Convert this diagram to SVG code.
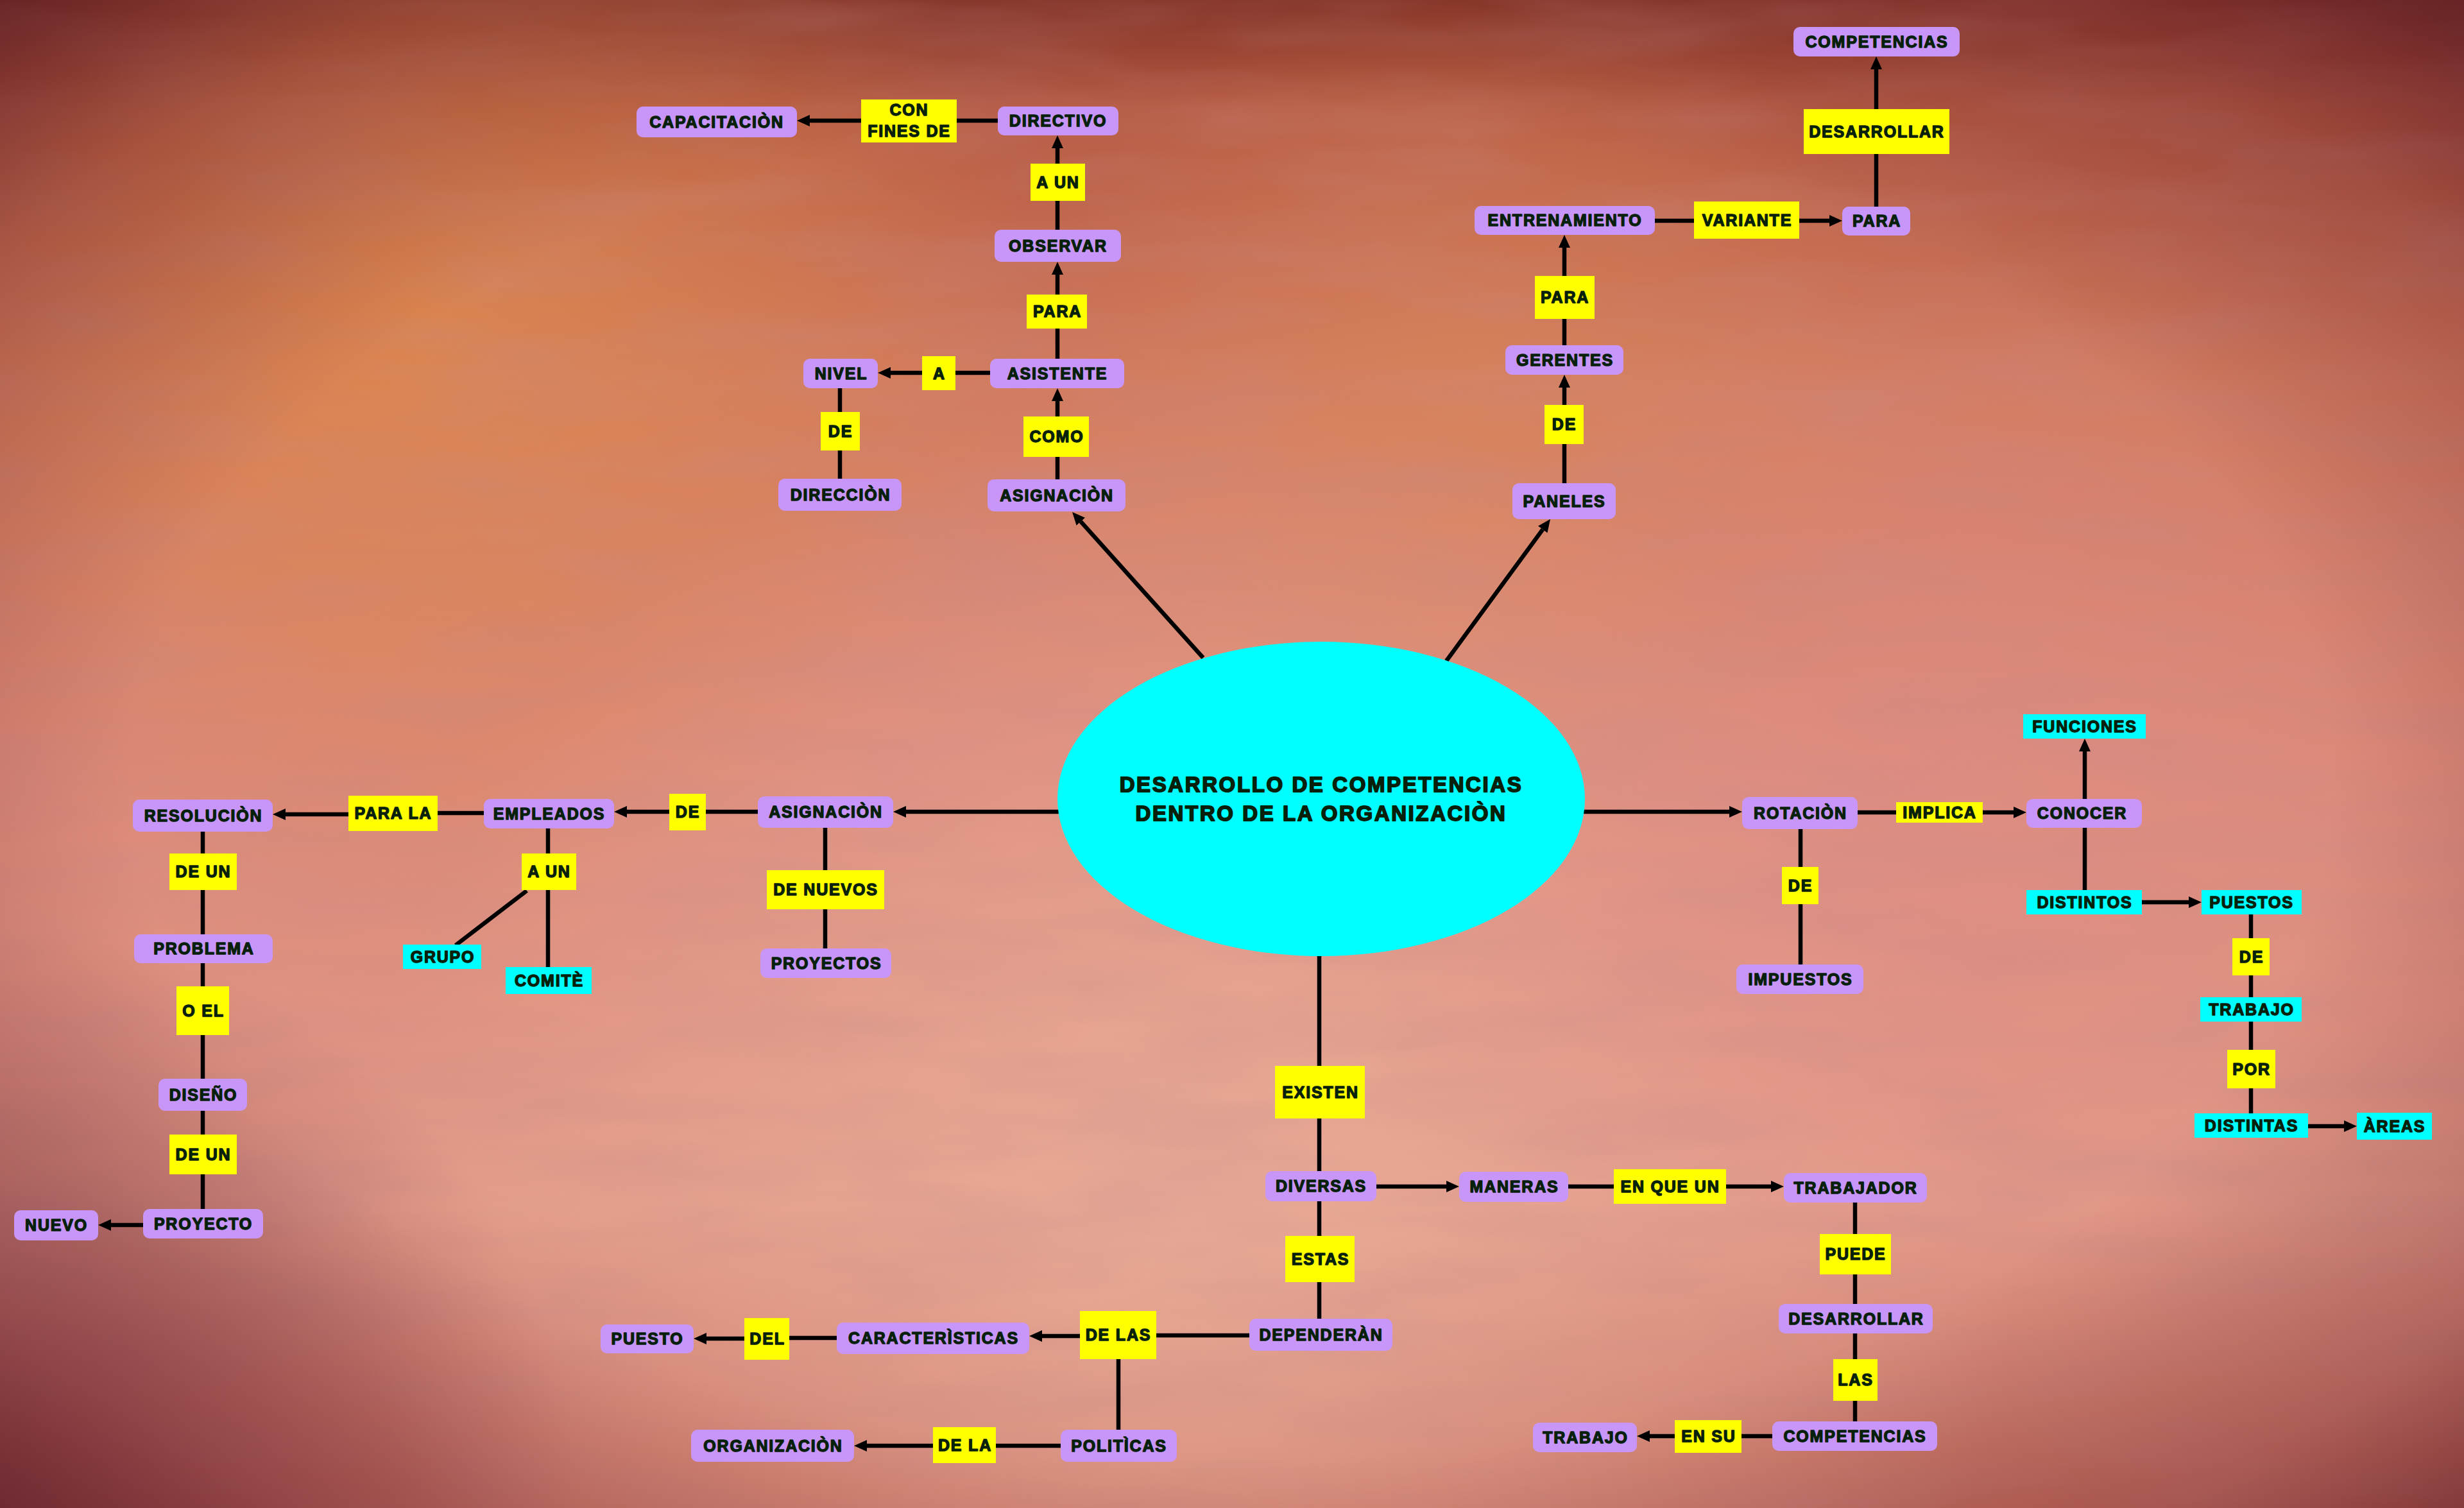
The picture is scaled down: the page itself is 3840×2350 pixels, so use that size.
<svg xmlns="http://www.w3.org/2000/svg" width="3840" height="2350" viewBox="0 0 3840 2350">
<defs>
<style>
.p{fill:#c896f8;}
.y{fill:#ffff00;}
.c{fill:#00ffff;}
.t{font-family:"Liberation Sans",Arial,sans-serif;font-weight:bold;font-size:25px;letter-spacing:1.8px;fill:#06200a;stroke:#06200a;stroke-width:1.4;stroke-linejoin:round;text-anchor:middle;}
.tt{font-family:"Liberation Sans",Arial,sans-serif;font-weight:bold;font-size:33px;letter-spacing:2.6px;fill:#06200a;stroke:#06200a;stroke-width:1.8;stroke-linejoin:round;text-anchor:middle;}
.ln{stroke:#000;stroke-width:6.5;fill:none;}
.ar{stroke:#000;stroke-width:6.5;fill:none;marker-end:url(#ah);}
</style>
<marker id="ah" viewBox="0 0 20 18" refX="0" refY="9" markerWidth="20" markerHeight="18" markerUnits="userSpaceOnUse" orient="auto">
<path d="M0,0 L20,9 L0,18 z" fill="#000"/>
</marker>
<linearGradient id="bgv" x1="0" y1="0" x2="0" y2="1">
<stop offset="0" stop-color="#8a3828"/>
<stop offset="0.07" stop-color="#b65a42"/>
<stop offset="0.25" stop-color="#d27a5e"/>
<stop offset="0.5" stop-color="#dc8878"/>
<stop offset="0.8" stop-color="#e29a88"/>
<stop offset="1" stop-color="#c87262"/>
</linearGradient>
<radialGradient id="org" cx="650" cy="480" r="950" gradientUnits="userSpaceOnUse">
<stop offset="0" stop-color="#e08a4c" stop-opacity="0.75"/>
<stop offset="1" stop-color="#e08a4c" stop-opacity="0"/>
</radialGradient>
<radialGradient id="org2" cx="2300" cy="650" r="700" gradientUnits="userSpaceOnUse">
<stop offset="0" stop-color="#dc8a5a" stop-opacity="0.5"/>
<stop offset="1" stop-color="#dc8a5a" stop-opacity="0"/>
</radialGradient>
<radialGradient id="pch" cx="1850" cy="1900" r="1300" gradientUnits="userSpaceOnUse">
<stop offset="0" stop-color="#ecb09c" stop-opacity="0.75"/>
<stop offset="1" stop-color="#ecb09c" stop-opacity="0"/>
</radialGradient>
<radialGradient id="pink" cx="3000" cy="1300" r="900" gradientUnits="userSpaceOnUse">
<stop offset="0" stop-color="#e0908a" stop-opacity="0.5"/>
<stop offset="1" stop-color="#e0908a" stop-opacity="0"/>
</radialGradient>
<radialGradient id="dark" cx="0" cy="2350" r="900" gradientUnits="userSpaceOnUse">
<stop offset="0" stop-color="#6a2438" stop-opacity="0.6"/>
<stop offset="1" stop-color="#6a2438" stop-opacity="0"/>
</radialGradient>
<radialGradient id="vig" cx="0.5" cy="0.52" r="0.72">
<stop offset="0.62" stop-color="#6a2028" stop-opacity="0"/>
<stop offset="0.85" stop-color="#6a2028" stop-opacity="0.35"/>
<stop offset="1" stop-color="#5a1a22" stop-opacity="0.75"/>
</radialGradient>
<filter id="tex" x="0" y="0" width="100%" height="100%">
<feTurbulence type="fractalNoise" baseFrequency="0.003 0.014" numOctaves="3" seed="7"/>
<feColorMatrix type="matrix" values="0 0 0 0 0.55  0 0 0 0 0.25  0 0 0 0 0.25  0 0 0 -1.6 1.1"/>
</filter>
</defs>

<g id="background">
<rect width="3840" height="2350" fill="url(#bgv)"/>
<rect width="3840" height="2350" fill="url(#org)"/>
<rect width="3840" height="2350" fill="url(#org2)"/>
<rect width="3840" height="2350" fill="url(#pch)"/>
<rect width="3840" height="2350" fill="url(#pink)"/>
<rect width="3840" height="2350" filter="url(#tex)" opacity="0.3"/>
<rect width="3840" height="2350" fill="url(#dark)"/>
<rect width="3840" height="2350" fill="url(#vig)"/>
</g>

<g id="connectors">
<line class="ar" x1="1875" y1="1025" x2="1684.4" y2="812.9"/>
<line class="ln" x1="1648" y1="772" x2="1648" y2="680"/>
<line class="ar" x1="1648" y1="649" x2="1648" y2="625"/>
<line class="ln" x1="1648" y1="582" x2="1648" y2="485"/>
<line class="ar" x1="1648" y1="459" x2="1648" y2="428"/>
<line class="ln" x1="1648" y1="383" x2="1648" y2="284"/>
<line class="ar" x1="1648" y1="255" x2="1648" y2="231"/>
<line class="ln" x1="1650" y1="188" x2="1416" y2="188"/>
<line class="ar" x1="1342" y1="188" x2="1262" y2="188"/>
<line class="ln" x1="1647" y1="581" x2="1463" y2="581"/>
<line class="ar" x1="1437" y1="581" x2="1388" y2="581"/>
<line class="ln" x1="1309" y1="582" x2="1309" y2="771"/>
<line class="ar" x1="2254" y1="1030" x2="2404.2" y2="825.1"/>
<line class="ln" x1="2438" y1="780" x2="2438" y2="661"/>
<line class="ar" x1="2438" y1="631" x2="2438" y2="604"/>
<line class="ln" x1="2438" y1="561" x2="2438" y2="463"/>
<line class="ar" x1="2438" y1="430" x2="2438" y2="386"/>
<line class="ln" x1="2438" y1="344" x2="2722" y2="344"/>
<line class="ar" x1="2804" y1="344" x2="2851" y2="344"/>
<line class="ln" x1="2924" y1="344" x2="2924" y2="205"/>
<line class="ar" x1="2924" y1="170" x2="2924" y2="108"/>
<line class="ar" x1="1660" y1="1265" x2="1412" y2="1265"/>
<line class="ln" x1="1286" y1="1265" x2="1071" y2="1265"/>
<line class="ar" x1="1043" y1="1265" x2="977" y2="1265"/>
<line class="ln" x1="855" y1="1267" x2="612" y2="1267"/>
<line class="ar" x1="543" y1="1269" x2="445" y2="1269"/>
<line class="ln" x1="316" y1="1271" x2="316" y2="1907"/>
<line class="ar" x1="223" y1="1909" x2="173" y2="1909"/>
<line class="ln" x1="854" y1="1268" x2="854" y2="1528"/>
<line class="ln" x1="821" y1="1388" x2="710" y2="1473"/>
<line class="ln" x1="1286" y1="1266" x2="1286" y2="1501"/>
<line class="ar" x1="2460" y1="1265" x2="2695" y2="1265"/>
<line class="ln" x1="2805" y1="1266" x2="3022" y2="1266"/>
<line class="ar" x1="3090" y1="1266" x2="3138" y2="1266"/>
<line class="ar" x1="3249" y1="1245" x2="3249" y2="1171"/>
<line class="ln" x1="3249" y1="1267" x2="3249" y2="1406"/>
<line class="ar" x1="3338" y1="1406" x2="3411" y2="1406"/>
<line class="ln" x1="3508" y1="1406" x2="3508" y2="1754"/>
<line class="ar" x1="3597" y1="1755" x2="3653" y2="1755"/>
<line class="ln" x1="2806" y1="1266" x2="2806" y2="1526"/>
<line class="ln" x1="2056" y1="1480" x2="2056" y2="2080"/>
<line class="ar" x1="2144" y1="1849" x2="2254" y2="1849"/>
<line class="ln" x1="2359" y1="1849" x2="2602" y2="1849"/>
<line class="ar" x1="2690" y1="1849" x2="2760" y2="1849"/>
<line class="ln" x1="2891" y1="1851" x2="2891" y2="2238"/>
<line class="ln" x1="2890" y1="2238" x2="2662" y2="2238"/>
<line class="ar" x1="2610" y1="2238" x2="2571" y2="2238"/>
<line class="ln" x1="2058" y1="2081" x2="1742" y2="2081"/>
<line class="ar" x1="1683" y1="2082" x2="1624" y2="2082"/>
<line class="ln" x1="1454" y1="2085" x2="1195" y2="2085"/>
<line class="ar" x1="1160" y1="2086" x2="1101" y2="2086"/>
<line class="ln" x1="1743" y1="2080" x2="1743" y2="2253"/>
<line class="ln" x1="1743" y1="2253" x2="1503" y2="2253"/>
<line class="ar" x1="1454" y1="2253" x2="1351" y2="2253"/>
</g>

<g id="center">
<ellipse cx="2059" cy="1245" rx="411" ry="245" fill="#00ffff"/>
<text class="tt" x="2059" y="1234">DESARROLLO DE COMPETENCIAS</text>
<text class="tt" x="2059" y="1279">DENTRO DE LA ORGANIZACIÒN</text>
</g>

<g id="n-capacitacion"><rect class="p" x="992" y="166" width="250" height="48" rx="10"/><text class="t" x="1117" y="199">CAPACITACIÒN</text></g>
<g id="n-con-fines-de"><rect class="y" x="1342" y="155" width="149" height="67"/><text class="t" x="1417" y="180">CON</text><text class="t" x="1417" y="213">FINES DE</text></g>
<g id="n-directivo"><rect class="p" x="1555" y="166" width="188" height="45" rx="10"/><text class="t" x="1649" y="197">DIRECTIVO</text></g>
<g id="n-a-un-1"><rect class="y" x="1606" y="255" width="85" height="58"/><text class="t" x="1649" y="293">A UN</text></g>
<g id="n-observar"><rect class="p" x="1550" y="358" width="197" height="50" rx="10"/><text class="t" x="1649" y="392">OBSERVAR</text></g>
<g id="n-para-1"><rect class="y" x="1600" y="459" width="94" height="53"/><text class="t" x="1648" y="494">PARA</text></g>
<g id="n-asistente"><rect class="p" x="1543" y="559" width="209" height="46" rx="10"/><text class="t" x="1648" y="591">ASISTENTE</text></g>
<g id="n-a"><rect class="y" x="1437" y="555" width="52" height="53"/><text class="t" x="1464" y="591">A</text></g>
<g id="n-nivel"><rect class="p" x="1252" y="559" width="116" height="46" rx="10"/><text class="t" x="1311" y="591">NIVEL</text></g>
<g id="n-de-1"><rect class="y" x="1279" y="642" width="61" height="60"/><text class="t" x="1310" y="681">DE</text></g>
<g id="n-direccion"><rect class="p" x="1213" y="746" width="192" height="50" rx="10"/><text class="t" x="1310" y="780">DIRECCIÒN</text></g>
<g id="n-como"><rect class="y" x="1595" y="649" width="102" height="63"/><text class="t" x="1647" y="689">COMO</text></g>
<g id="n-asignacion-1"><rect class="p" x="1539" y="747" width="215" height="50" rx="10"/><text class="t" x="1647" y="781">ASIGNACIÒN</text></g>

<g id="n-competencias-1"><rect class="p" x="2795" y="42" width="259" height="46" rx="10"/><text class="t" x="2925" y="74">COMPETENCIAS</text></g>
<g id="n-desarrollar-1"><rect class="y" x="2811" y="170" width="227" height="70"/><text class="t" x="2925" y="214">DESARROLLAR</text></g>
<g id="n-entrenamiento"><rect class="p" x="2298" y="321" width="281" height="45" rx="10"/><text class="t" x="2439" y="352">ENTRENAMIENTO</text></g>
<g id="n-variante"><rect class="y" x="2640" y="314" width="164" height="58"/><text class="t" x="2723" y="352">VARIANTE</text></g>
<g id="n-para-2"><rect class="p" x="2871" y="322" width="106" height="45" rx="10"/><text class="t" x="2925" y="353">PARA</text></g>
<g id="n-para-3"><rect class="y" x="2392" y="430" width="93" height="67"/><text class="t" x="2439" y="472">PARA</text></g>
<g id="n-gerentes"><rect class="p" x="2346" y="538" width="184" height="46" rx="10"/><text class="t" x="2439" y="570">GERENTES</text></g>
<g id="n-de-2"><rect class="y" x="2407" y="631" width="61" height="61"/><text class="t" x="2438" y="670">DE</text></g>
<g id="n-paneles"><rect class="p" x="2357" y="753" width="161" height="56" rx="10"/><text class="t" x="2438" y="790">PANELES</text></g>

<g id="n-resolucion"><rect class="p" x="207" y="1246" width="218" height="50" rx="10"/><text class="t" x="317" y="1280">RESOLUCIÒN</text></g>
<g id="n-para-la"><rect class="y" x="543" y="1240" width="139" height="55"/><text class="t" x="613" y="1276">PARA LA</text></g>
<g id="n-empleados"><rect class="p" x="754" y="1245" width="203" height="46" rx="10"/><text class="t" x="856" y="1277">EMPLEADOS</text></g>
<g id="n-de-3"><rect class="y" x="1043" y="1237" width="57" height="57"/><text class="t" x="1072" y="1274">DE</text></g>
<g id="n-asignacion-2"><rect class="p" x="1181" y="1241" width="211" height="49" rx="10"/><text class="t" x="1287" y="1274">ASIGNACIÒN</text></g>
<g id="n-de-nuevos"><rect class="y" x="1195" y="1356" width="183" height="61"/><text class="t" x="1287" y="1395">DE NUEVOS</text></g>
<g id="n-proyectos"><rect class="p" x="1185" y="1478" width="204" height="46" rx="10"/><text class="t" x="1288" y="1510">PROYECTOS</text></g>
<g id="n-a-un-2"><rect class="y" x="813" y="1330" width="85" height="57"/><text class="t" x="856" y="1367">A UN</text></g>
<g id="n-grupo"><rect class="c" x="628" y="1472" width="122" height="38"/><text class="t" x="690" y="1500">GRUPO</text></g>
<g id="n-comite"><rect class="c" x="788" y="1507" width="134" height="42"/><text class="t" x="856" y="1537">COMITÈ</text></g>
<g id="n-de-un-1"><rect class="y" x="264" y="1330" width="105" height="57"/><text class="t" x="317" y="1367">DE UN</text></g>
<g id="n-problema"><rect class="p" x="209" y="1456" width="216" height="45" rx="10"/><text class="t" x="318" y="1487">PROBLEMA</text></g>
<g id="n-o-el"><rect class="y" x="275" y="1537" width="82" height="76"/><text class="t" x="317" y="1584">O EL</text></g>
<g id="n-diseno"><rect class="p" x="247" y="1681" width="138" height="50" rx="10"/><text class="t" x="317" y="1715">DISEÑO</text></g>
<g id="n-de-un-2"><rect class="y" x="264" y="1768" width="105" height="62"/><text class="t" x="317" y="1808">DE UN</text></g>
<g id="n-proyecto"><rect class="p" x="223" y="1884" width="187" height="46" rx="10"/><text class="t" x="317" y="1916">PROYECTO</text></g>
<g id="n-nuevo"><rect class="p" x="22" y="1886" width="131" height="47" rx="10"/><text class="t" x="88" y="1918">NUEVO</text></g>

<g id="n-rotacion"><rect class="p" x="2715" y="1242" width="180" height="50" rx="10"/><text class="t" x="2806" y="1276">ROTACIÒN</text></g>
<g id="n-implica"><rect class="y" x="2955" y="1250" width="135" height="32"/><text class="t" x="3023" y="1275">IMPLICA</text></g>
<g id="n-conocer"><rect class="p" x="3158" y="1245" width="180" height="45" rx="10"/><text class="t" x="3245" y="1276">CONOCER</text></g>
<g id="n-funciones"><rect class="c" x="3153" y="1113" width="191" height="38"/><text class="t" x="3249" y="1141">FUNCIONES</text></g>
<g id="n-distintos"><rect class="c" x="3158" y="1387" width="180" height="38"/><text class="t" x="3249" y="1415">DISTINTOS</text></g>
<g id="n-puestos"><rect class="c" x="3431" y="1387" width="156" height="38"/><text class="t" x="3509" y="1415">PUESTOS</text></g>
<g id="n-de-4"><rect class="y" x="3479" y="1462" width="58" height="58"/><text class="t" x="3509" y="1500">DE</text></g>
<g id="n-trabajo-1"><rect class="c" x="3429" y="1554" width="158" height="38"/><text class="t" x="3509" y="1582">TRABAJO</text></g>
<g id="n-por"><rect class="y" x="3471" y="1636" width="75" height="60"/><text class="t" x="3509" y="1675">POR</text></g>
<g id="n-distintas"><rect class="c" x="3420" y="1735" width="177" height="38"/><text class="t" x="3509" y="1763">DISTINTAS</text></g>
<g id="n-areas"><rect class="c" x="3673" y="1734" width="117" height="42"/><text class="t" x="3732" y="1764">ÀREAS</text></g>
<g id="n-de-5"><rect class="y" x="2777" y="1351" width="57" height="58"/><text class="t" x="2806" y="1389">DE</text></g>
<g id="n-impuestos"><rect class="p" x="2706" y="1503" width="198" height="46" rx="10"/><text class="t" x="2806" y="1535">IMPUESTOS</text></g>

<g id="n-existen"><rect class="y" x="1987" y="1661" width="140" height="82"/><text class="t" x="2058" y="1711">EXISTEN</text></g>
<g id="n-diversas"><rect class="p" x="1972" y="1825" width="173" height="47" rx="10"/><text class="t" x="2059" y="1857">DIVERSAS</text></g>
<g id="n-maneras"><rect class="p" x="2274" y="1826" width="170" height="47" rx="10"/><text class="t" x="2360" y="1858">MANERAS</text></g>
<g id="n-en-que-un"><rect class="y" x="2515" y="1822" width="175" height="54"/><text class="t" x="2603" y="1858">EN QUE UN</text></g>
<g id="n-trabajador"><rect class="p" x="2780" y="1828" width="223" height="46" rx="10"/><text class="t" x="2892" y="1860">TRABAJADOR</text></g>
<g id="n-puede"><rect class="y" x="2836" y="1923" width="111" height="63"/><text class="t" x="2892" y="1963">PUEDE</text></g>
<g id="n-desarrollar-2"><rect class="p" x="2772" y="2032" width="240" height="46" rx="10"/><text class="t" x="2893" y="2064">DESARROLLAR</text></g>
<g id="n-las"><rect class="y" x="2857" y="2118" width="69" height="65"/><text class="t" x="2892" y="2159">LAS</text></g>
<g id="n-competencias-2"><rect class="p" x="2762" y="2215" width="257" height="46" rx="10"/><text class="t" x="2891" y="2247">COMPETENCIAS</text></g>
<g id="n-en-su"><rect class="y" x="2610" y="2213" width="104" height="51"/><text class="t" x="2663" y="2247">EN SU</text></g>
<g id="n-trabajo-2"><rect class="p" x="2389" y="2217" width="162" height="46" rx="10"/><text class="t" x="2471" y="2249">TRABAJO</text></g>
<g id="n-estas"><rect class="y" x="2003" y="1926" width="108" height="72"/><text class="t" x="2058" y="1971">ESTAS</text></g>
<g id="n-dependeran"><rect class="p" x="1947" y="2055" width="223" height="50" rx="10"/><text class="t" x="2059" y="2089">DEPENDERÀN</text></g>
<g id="n-de-las"><rect class="y" x="1683" y="2043" width="119" height="75"/><text class="t" x="1743" y="2089">DE LAS</text></g>
<g id="n-caracteristicas"><rect class="p" x="1304" y="2061" width="300" height="49" rx="10"/><text class="t" x="1455" y="2094">CARACTERÌSTICAS</text></g>
<g id="n-del"><rect class="y" x="1160" y="2054" width="70" height="65"/><text class="t" x="1196" y="2095">DEL</text></g>
<g id="n-puesto"><rect class="p" x="936" y="2064" width="145" height="45" rx="10"/><text class="t" x="1009" y="2095">PUESTO</text></g>
<g id="n-politicas"><rect class="p" x="1653" y="2228" width="181" height="50" rx="10"/><text class="t" x="1744" y="2262">POLITÌCAS</text></g>
<g id="n-de-la"><rect class="y" x="1454" y="2224" width="98" height="56"/><text class="t" x="1504" y="2261">DE LA</text></g>
<g id="n-organizacion"><rect class="p" x="1077" y="2228" width="254" height="50" rx="10"/><text class="t" x="1205" y="2262">ORGANIZACIÒN</text></g>
</svg>
